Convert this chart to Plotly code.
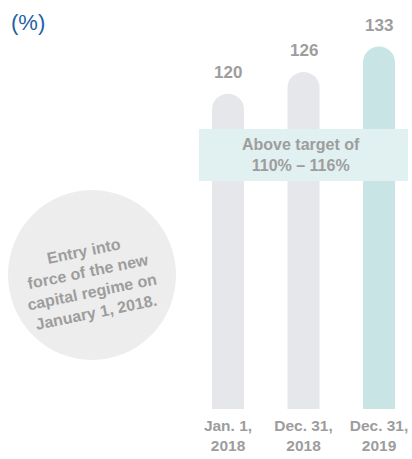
import plotly.graph_objects as go

categories = ["Jan. 1,<br>2018", "Dec. 31,<br>2018", "Dec. 31,<br>2019"]
values = [120, 126, 133]
bar_colors = ["#e6e7eb", "#e6e7eb", "#c9e4e4"]
band_text = "<b>Above target of<br>110% – 116%</b>"
circle_text = "<b>Entry into<br>force of the new<br>capital regime on<br>January 1, 2018.</b>"
unit_text = "(%)"

GRAY = "#9d9d9d"
FONT = "Liberation Sans, Arial, sans-serif"

W, H = 412, 459
PLOT_BOTTOM = 409  # px
PH = PLOT_BOTTOM


def px(x):
    return x / W


def py(y):
    return (PLOT_BOTTOM - y) / PH


fig = go.Figure()
fig.add_trace(go.Bar(
    x=[0, 1, 2], y=values, base=0,
    width=0.424,
    marker=dict(color=bar_colors, cornerradius="50%", line=dict(width=0)),
    hoverinfo="skip",
))

for i, v in enumerate(values):
    fig.add_annotation(x=i, y=v, xref="x", yref="y", text=f"<b>{v}</b>",
                       showarrow=False, xanchor="center", yanchor="middle", yshift=21,
                       font=dict(family=FONT, size=17, color=GRAY))

# target band
fig.add_shape(type="rect", xref="paper", yref="paper",
              x0=px(199), x1=px(408), y0=py(181), y1=py(129),
              fillcolor="#e1f0f0", line=dict(width=0), layer="above")
fig.add_annotation(xref="paper", yref="paper", x=px(301), y=py(155.5),
                   xanchor="center", yanchor="middle",
                   text=band_text, showarrow=False,
                   font=dict(family=FONT, size=16, color=GRAY))

# circle note
fig.add_shape(type="circle", xref="paper", yref="paper",
              x0=px(8), x1=px(176), y0=py(360), y1=py(190),
              fillcolor="#ededed", line=dict(width=0), layer="below")
fig.add_annotation(xref="paper", yref="paper", x=px(90), y=py(281),
                   xanchor="center", yanchor="middle",
                   text=circle_text, showarrow=False, textangle=-11.5,
                   font=dict(family=FONT, size=16, color=GRAY))

fig.add_annotation(xref="paper", yref="paper", x=px(9), y=py(23),
                   xanchor="left", yanchor="middle", text=unit_text, showarrow=False,
                   font=dict(family=FONT, size=22, color="#1f5fa8"))

fig.update_layout(
    width=W, height=H,
    margin=dict(l=0, r=0, t=0, b=H - PH, pad=0),
    plot_bgcolor="white", paper_bgcolor="white",
    showlegend=False,
    xaxis=dict(range=[-228 / 75.5, (W - 228) / 75.5], tickvals=[0, 1, 2], ticktext=categories,
               showgrid=False, zeroline=False, showline=False, ticks="",
               tickfont=dict(family=FONT, size=15.5, color=GRAY, weight="bold"),
               ticklabelstandoff=5,
               fixedrange=True, automargin=False),
    yaxis=dict(range=[33.13, 33.13 + PH / 3.63], visible=False, fixedrange=True),
)

fig.write_html(
    "out.html",
    config={"displayModeBar": False},
    post_script="document.body.style.margin='0';document.body.style.overflow='hidden';",
)
